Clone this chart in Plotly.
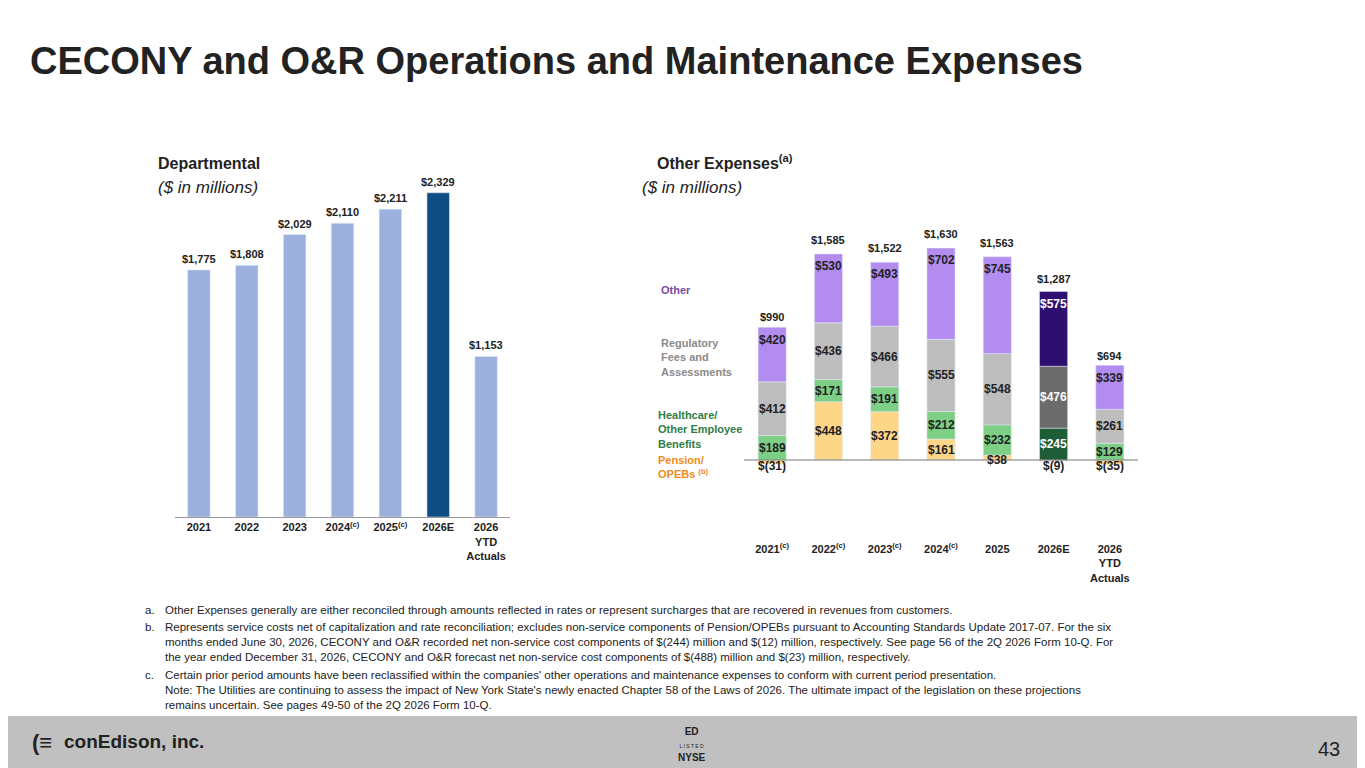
import plotly.graph_objects as go

# Departmental
dept_cats = ["2021", "2022", "2023", "2024<sup>(c)</sup>", "2025<sup>(c)</sup>", "2026E", "2026<br>YTD<br>Actuals"]
dept_vals = [1775, 1808, 2029, 2110, 2211, 2329, 1153]

# Other expenses
oth_cats = ["2021<sup>(c)</sup>", "2022<sup>(c)</sup>", "2023<sup>(c)</sup>", "2024<sup>(c)</sup>", "2025", "2026E", "2026<br>YTD<br>Actuals"]
pension = [-31, 448, 372, 161, 38, -9, -35]
healthcare = [189, 171, 191, 212, 232, 245, 129]
regulatory = [412, 436, 466, 555, 548, 476, 261]
other = [420, 530, 493, 702, 745, 575, 339]
totals = [990, 1585, 1522, 1630, 1563, 1287, 694]

W, H, OFF = 1357, 760, 8
def X(px): return (px - OFF) / W
def Y(py): return 1 - (py - OFF) / H

F = "Arial, Liberation Sans, sans-serif"
fig = go.Figure()

dcol = ["#9bb0dc"] * 7
dcol[5] = "#0f4d84"
fig.add_trace(go.Bar(x=list(range(7)), y=dept_vals, marker_color=dcol, width=0.47,
                     xaxis="x", yaxis="y", showlegend=False, hoverinfo="skip"))
for i, v in enumerate(dept_vals):
    fig.add_annotation(x=i, y=v, xref="x", yref="y", text=f"<b>${v:,}</b>", showarrow=False,
                       yanchor="bottom", yshift=3, font=dict(size=11, color="#222", family=F))

series = [
    (pension, ["#fdd68a"] * 7),
    (healthcare, ["#7dcf86"] * 5 + ["#1d5e36", "#7dcf86"]),
    (regulatory, ["#bdbdbd"] * 5 + ["#6b6b6b", "#bdbdbd"]),
    (other, ["#b38cf0"] * 5 + ["#2e0f70", "#b38cf0"]),
]
for vals, cols in series:
    fig.add_trace(go.Bar(x=list(range(7)), y=vals, marker_color=cols, width=0.5,
                         xaxis="x2", yaxis="y2", showlegend=False, hoverinfo="skip"))

LF = 12
for i in range(7):
    base = 0
    for k, (vals, _) in enumerate(series):
        v = vals[i]
        col = "white" if i == 5 and k > 0 else "#222"
        lab = f"${v}" if v >= 0 else f"$({-v})"
        if v < 0:
            fig.add_annotation(x=i, y=0, xref="x2", yref="y2", text=f"<b>{lab}</b>", showarrow=False,
                               yanchor="top", yshift=3, font=dict(size=LF, color="#222", family=F))
            continue
        if k == 0 and v < 60:
            fig.add_annotation(x=i, y=0, xref="x2", yref="y2", text=f"<b>{lab}</b>", showarrow=False,
                               yanchor="middle", font=dict(size=LF, color="#222", family=F))
        else:
            mid = base + v / 2
            if k == 3:
                mid = base + v - 95
            fig.add_annotation(x=i, y=mid, xref="x2", yref="y2", text=f"<b>{lab}</b>", showarrow=False,
                               font=dict(size=LF, color=col, family=F))
        base += v
    fig.add_annotation(x=i, y=totals[i], xref="x2", yref="y2", text=f"<b>${totals[i]:,}</b>", showarrow=False,
                       yanchor="bottom", yshift=6, font=dict(size=11, color="#222", family=F))

fig.update_layout(
    width=W, height=H, margin=dict(l=0, r=0, t=0, b=0),
    paper_bgcolor="white", plot_bgcolor="rgba(0,0,0,0)", barmode="relative",
    font=dict(family=F),
    xaxis=dict(domain=[X(175), X(510)], anchor="y", tickmode="array", tickvals=list(range(7)),
               ticktext=[f"<b>{c}</b>" for c in dept_cats], range=[-0.5, 6.5], showgrid=False,
               showline=True, linecolor="#999", ticks="", tickfont=dict(size=11, color="#222")),
    yaxis=dict(domain=[Y(517), Y(169)], range=[0, 2500], visible=False),
    xaxis2=dict(domain=[X(744), X(1138)], anchor="y2", tickmode="array", tickvals=list(range(7)),
                ticktext=[f"<b>{c}</b>" for c in oth_cats], range=[-0.5, 6.5], showgrid=False,
                showline=False, ticks="", ticklabelstandoff=68, tickfont=dict(size=11, color="#222")),
    yaxis2=dict(domain=[Y(473), Y(226)], range=[-100, 1800], visible=False),
)
fig.update_yaxes(zeroline=False, showgrid=False)
fig.add_shape(type="line", xref="paper", yref="paper", x0=X(744), x1=X(1138), y0=Y(460), y1=Y(460),
              line=dict(color="#777", width=1.2))

def ann(x, y, text, size=11, color="#222", align="left", xanchor="left", yanchor="top"):
    fig.add_annotation(x=X(x), y=Y(y), xref="paper", yref="paper", text=text, showarrow=False,
                       xanchor=xanchor, yanchor=yanchor, align=align, font=dict(size=size, color=color, family=F))

ann(28, 38, "<b>CECONY and O&R Operations and Maintenance Expenses</b>", size=38, color="#222")
ann(156, 153, "<b>Departmental</b>", size=16)
ann(156, 176, "<i>($ in millions)</i>", size=17)
ann(655, 150, "<b>Other Expenses<sup>(a)</sup></b>", size=16)
ann(640, 176, "<i>($ in millions)</i>", size=17)
ann(659, 282, "<b>Other</b>", color="#7a4aa0")
ann(659, 335, "<b>Regulatory<br>Fees and<br>Assessments</b>", color="#8a8a8a")
ann(656, 407, "<b>Healthcare/<br>Other Employee<br>Benefits</b>", color="#2f7d45")
ann(656, 452, "<b>Pension/<br>OPEBs <sup>(b)</sup></b>", color="#f08c1e")

notes = [
    ("a.", "Other Expenses generally are either reconciled through amounts reflected in rates or represent surcharges that are recovered in revenues from customers."),
    ("b.", "Represents service costs net of capitalization and rate reconciliation; excludes non-service components of Pension/OPEBs pursuant to Accounting Standards Update 2017-07. For the six<br>months ended June 30, 2026, CECONY and O&R recorded net non-service cost components of $(244) million and $(12) million, respectively. See page 56 of the 2Q 2026 Form 10-Q. For<br>the year ended December 31, 2026, CECONY and O&R forecast net non-service cost components of $(488) million and $(23) million, respectively."),
    ("c.", "Certain prior period amounts have been reclassified within the companies' other operations and maintenance expenses to conform with current period presentation.<br>Note: The Utilities are continuing to assess the impact of New York State's newly enacted Chapter 58 of the Laws of 2026. The ultimate impact of the legislation on these projections<br>remains uncertain. See pages 49-50 of the 2Q 2026 Form 10-Q."),
]
ys = [602, 619, 667]
for (l, t), y in zip(notes, ys):
    ann(143, y, l, size=11.5)
    ann(163, y, t, size=11.5)

fig.add_shape(type="rect", xref="paper", yref="paper", x0=0, x1=1, y0=0, y1=Y(716),
              fillcolor="#c0c0c0", line_width=0, layer="below")
ann(62, 729, "<b>conEdison, inc.</b>", size=19, color="#222")
ann(30, 728, "<b>(≡</b>", size=22, color="#222")
ann(692, 724, "<b>ED</b><br><span style='font-size:5px'>L I S T E D</span><br><b>NYSE</b>", size=10, align="center", xanchor="center")
ann(1342, 736, "43", size=20, color="#222", xanchor="right")

fig.write_html("out.html")
